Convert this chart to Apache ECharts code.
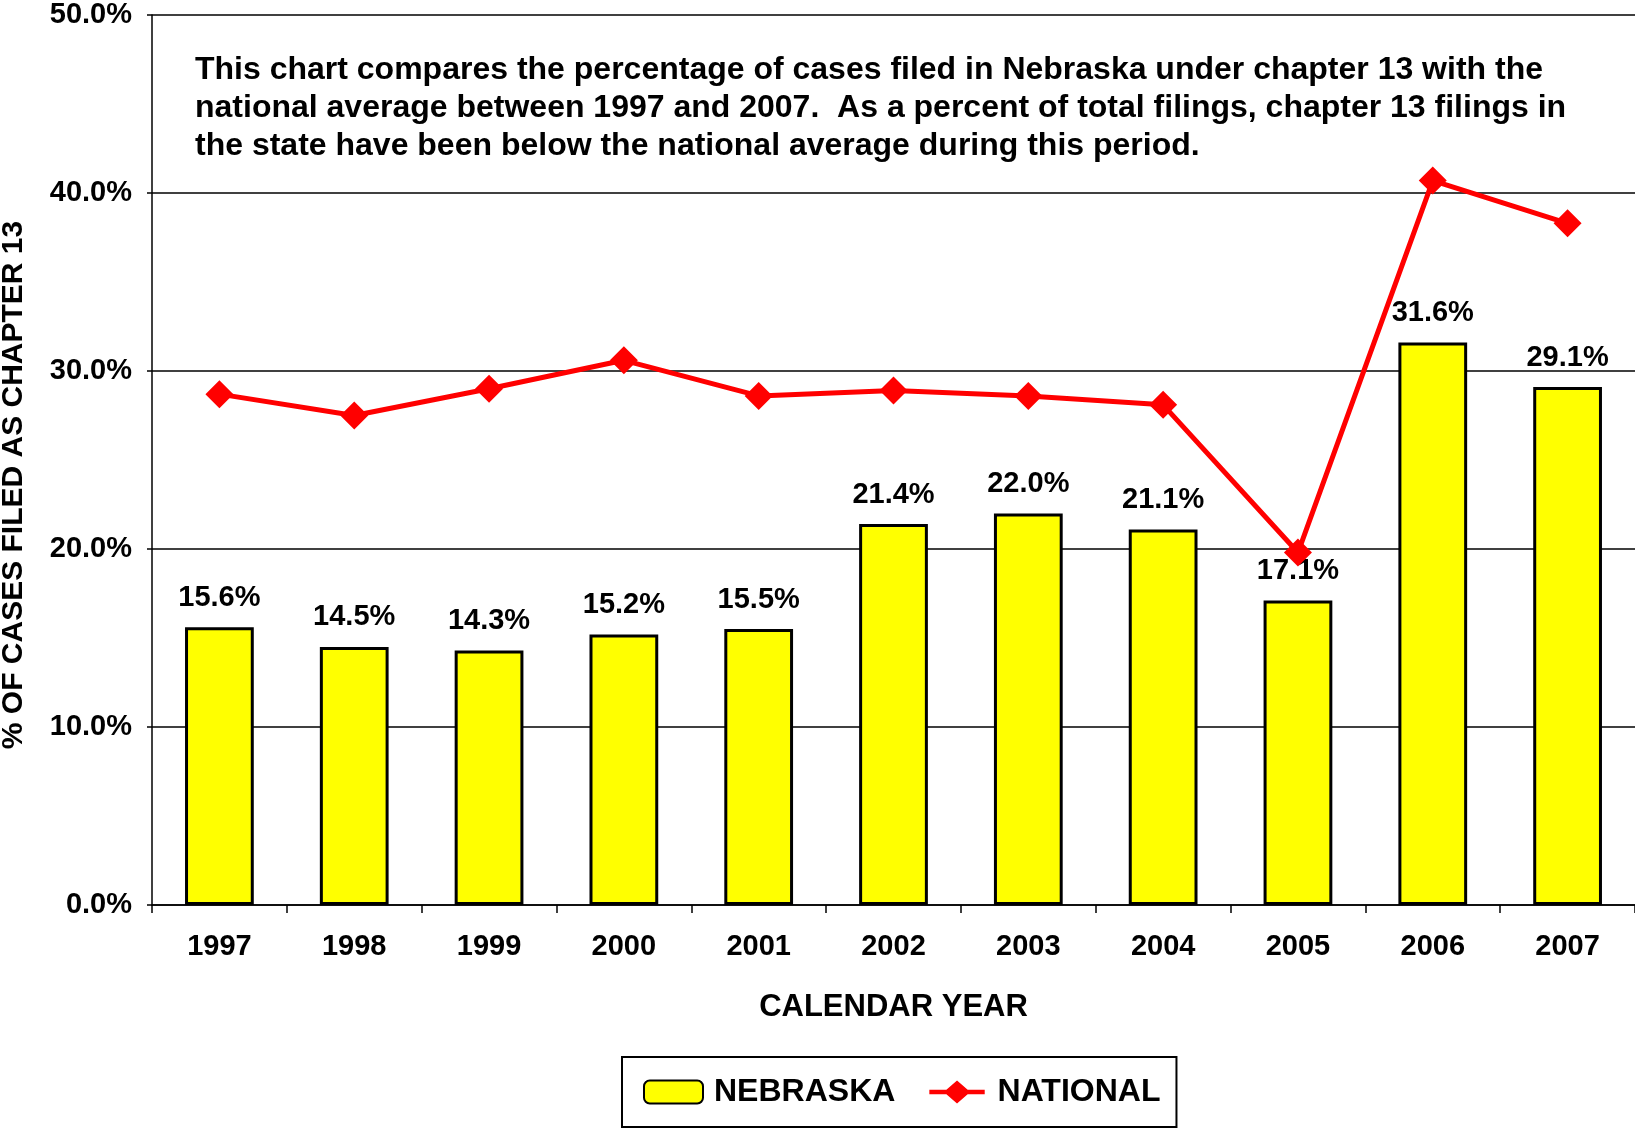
<!DOCTYPE html>
<html>
<head>
<meta charset="utf-8">
<script src="https://cdn.jsdelivr.net/npm/echarts@6/dist/echarts.min.js"></script>
<style>
html,body{margin:0;padding:0;background:#fff;}
#chart{width:1635px;height:1130px;}
</style>
</head>
<body>
<div id="chart"></div>
<script>
const years = ['1997','1998','1999','2000','2001','2002','2003','2004','2005','2006','2007'];
const nebraska = [15.6,14.5,14.3,15.2,15.5,21.4,22.0,21.1,17.1,31.6,29.1];
const national = [28.7,27.5,29.0,30.6,28.6,28.9,28.6,28.1,19.8,40.7,38.3];
const yTicks = [0,10,20,30,40,50];
const yTitle = '% OF CASES FILED AS CHAPTER 13';
const noteLines = [
  'This chart compares the percentage of cases filed in Nebraska under chapter 13 with the',
  'national average between 1997 and 2007.  As a percent of total filings, chapter 13 filings in',
  'the state have been below the national average during this period.'
];

const FONT = '"Liberation Sans", Arial, sans-serif';
const chart = echarts.init(document.getElementById('chart'), null, {renderer:'canvas'});
chart.setOption({
  backgroundColor:'#fff',
  animation:false,
  textStyle:{fontFamily:FONT, color:'#000'},
  grid:{left:152, top:15, right:0, bottom:225, containLabel:false, outerBoundsMode:'none'},
  legend:{
    left:622, top:1057,
    padding:[19,16,19,21],
    itemGap:34,
    itemWidth:59, itemHeight:23,
    borderColor:'#000', borderWidth:2,
    textStyle:{fontFamily:FONT, fontWeight:'bold', fontSize:32, color:'#000', padding:[0,0,0,6]},
    data:[
      {name:'NEBRASKA'},
      {name:'NATIONAL', icon:'path://M0,9.5H20L32.5,-1.5L45,9.5H65V14.5H45L32.5,25.5L20,14.5H0Z', itemStyle:{color:'#FF0000', borderWidth:0}}
    ]
  },
  xAxis:{
    type:'category', data:years, boundaryGap:true,
    name:'CALENDAR YEAR', nameLocation:'middle', nameGap:87,
    nameTextStyle:{fontFamily:FONT, fontWeight:'bold', fontSize:31, color:'#000'},
    axisLine:{lineStyle:{color:'#000', width:1.5}},
    axisTick:{show:true, alignWithLabel:false, length:8, lineStyle:{color:'#000', width:1.5}},
    axisLabel:{fontFamily:FONT, fontWeight:'bold', fontSize:29, color:'#000', margin:27}
  },
  yAxis:{
    type:'value', min:0, max:50, interval:10,
    axisLine:{show:true, lineStyle:{color:'#000', width:1.5}},
    axisTick:{show:true, length:5, lineStyle:{color:'#000', width:1.5}},
    axisLabel:{fontFamily:FONT, fontWeight:'bold', fontSize:29, color:'#000', margin:20,
      formatter:v => v.toFixed(1)+'%'},
    splitLine:{show:true, lineStyle:{color:'#000', width:1.5}}
  },
  graphic:[{
    type:'text', left:195, top:51, z:100,
    style:{
      text:noteLines.join('\n'),
      font:'bold 32px ' + FONT,
      fill:'#000',
      lineHeight:38
    }
  },{
    type:'text', x:14, y:485, rotation:Math.PI/2, z:100,
    style:{
      text:yTitle,
      font:'bold 30px ' + FONT,
      fill:'#000',
      align:'center', verticalAlign:'middle'
    }
  }],
  series:[
    {
      name:'NEBRASKA', type:'bar', data:nebraska, barWidth:'51%', z:2,
      itemStyle:{color:'#FFFF00', borderColor:'#000', borderWidth:3},
      label:{show:true, position:'top', distance:15, fontFamily:FONT, fontWeight:'bold', fontSize:29, color:'#000',
        formatter:p => p.value.toFixed(1)+'%'}
    },
    {
      name:'NATIONAL', type:'line', data:national, z:5,
      lineStyle:{color:'#FF0000', width:5},
      itemStyle:{color:'#FF0000'},
      symbol:'diamond', symbolSize:28
    }
  ]
});
</script>
</body>
</html>
